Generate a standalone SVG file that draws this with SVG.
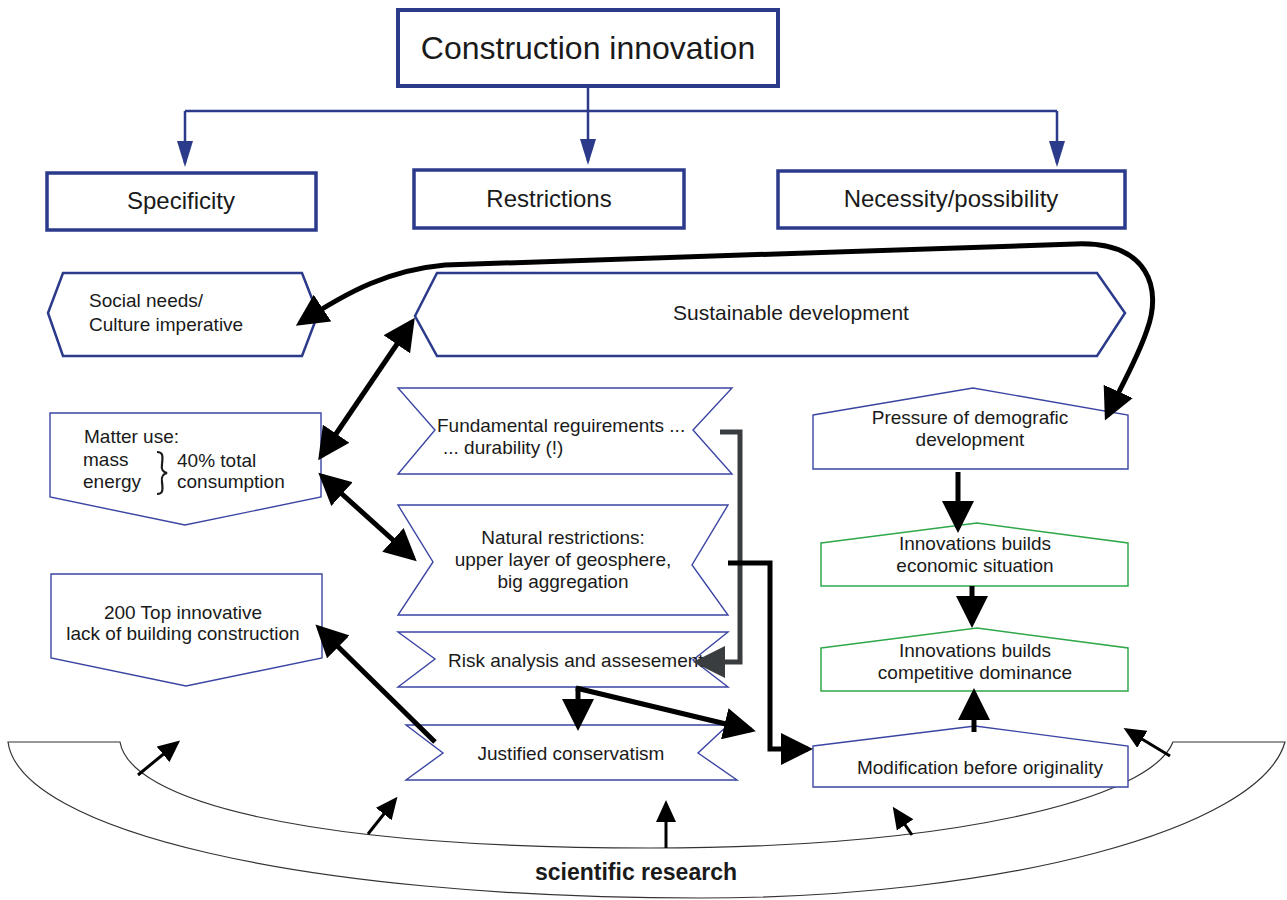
<svg xmlns="http://www.w3.org/2000/svg" width="1287" height="900" viewBox="0 0 1287 900">
<style>
text{font-family:"Liberation Sans",Arial,sans-serif;fill:#1a1a1a;font-size:19px}
.c{text-anchor:middle}
.big{font-size:32px}
.mid{font-size:24px}
.bold{font-weight:bold;font-size:23px}
.hdr{fill:#fff;stroke:#2b3a8a;stroke-width:4}
.sub{fill:#fff;stroke:#2b3a8a;stroke-width:3.5}
.hex{fill:#fff;stroke:#2b3a8a;stroke-width:2.5}
.thin{fill:#fff;stroke:#3a45a3;stroke-width:1.4}
.green{fill:#fff;stroke:#2fa84a;stroke-width:1.5}
.navy{fill:none;stroke:#2b3a8a;stroke-width:2.5}
.thick{fill:none;stroke:#000;stroke-width:5}
.grey{fill:none;stroke:#3a3d40;stroke-width:5}
.small{fill:none;stroke:#000;stroke-width:3}
</style>
<defs>
<marker id="navyArrow" markerUnits="userSpaceOnUse" markerWidth="26" markerHeight="16" refX="22" refY="8" orient="auto"><path d="M0,0 L26,8 L0,16 Z" fill="#2b3a8a"/></marker>
<marker id="bigArrow" markerUnits="userSpaceOnUse" markerWidth="32" markerHeight="32" refX="27" refY="16" orient="auto-start-reverse"><path d="M0,0 L32,16 L0,32 Z" fill="#000"/></marker>
<marker id="greyArrow" markerUnits="userSpaceOnUse" markerWidth="32" markerHeight="32" refX="27" refY="16" orient="auto"><path d="M0,0 L32,16 L0,32 Z" fill="#3a3d40"/></marker>
<marker id="smallArrow" markerUnits="userSpaceOnUse" markerWidth="22" markerHeight="20" refX="18" refY="10" orient="auto"><path d="M0,0 L22,10 L0,20 Z" fill="#000"/></marker>
</defs>
<rect x="0" y="0" width="1287" height="900" fill="#fff"/>

<g id="research">
<path d="M8,742 H120 C130,800 300,848 650,848 C950,848 1150,800 1173,742 H1285 C1260,830 1000,898 700,898 C300,898 20,830 8,742 Z" fill="#fff" stroke="#333" stroke-width="1.2"/>
<text class="c bold" x="636" y="880">scientific research</text>
</g>

<g id="title">
<rect class="hdr" x="398" y="10" width="380" height="76"/>
<text class="c big" x="588" y="59">Construction innovation</text>
</g>
<g id="specificity">
<rect class="sub" x="47" y="173" width="269" height="57"/>
<text class="c mid" x="181" y="209">Specificity</text>
</g>
<g id="restrictions">
<rect class="sub" x="414" y="170" width="270" height="58"/>
<text class="c mid" x="549" y="207">Restrictions</text>
</g>
<g id="necessity">
<rect class="sub" x="778" y="171" width="347" height="57"/>
<text class="c mid" x="951" y="207">Necessity/possibility</text>
</g>

<g id="social">
<polygon class="hex" points="48,313 63,273 302,273 318,314 302,356 63,356"/>
<text x="89" y="307">Social needs/</text>
<text x="89" y="331">Culture imperative</text>
</g>
<g id="sustainable">
<polygon class="hex" points="415,316 437,273 1097,273 1125,313 1097,356 437,356"/>
<text class="c" x="791" y="320" style="font-size:21px">Sustainable development</text>
</g>
<g id="matter">
<polygon class="thin" points="50,413 321,413 321,497 185,525 50,497"/>
<text x="84" y="443">Matter use:</text>
<text x="83" y="466">mass</text>
<text x="83" y="488">energy</text>
<path d="M157,452 C163,452 163,456 162,464 C161,470 163,472 167,473 C163,474 161,476 162,482 C163,490 163,494 157,494" fill="none" stroke="#1a1a1a" stroke-width="2.2"/>
<text x="177" y="467">40% total</text>
<text x="177" y="488">consumption</text>
</g>
<g id="top200">
<polygon class="thin" points="51,574 322,574 322,658 186,686 51,658"/>
<text class="c" x="183" y="619">200 Top innovative</text>
<text class="c" x="183" y="640">lack of building construction</text>
</g>

<g id="fundamental">
<polygon class="thin" points="398,388 732,388 693,430 732,474 398,474 435,430"/>
<text x="437" y="432">Fundamental reguirements ...</text>
<text x="443" y="454">... durability (!)</text>
</g>
<g id="natural">
<polygon class="thin" points="398,505 728,505 692,565 728,615 398,615 433,562"/>
<text class="c" x="563" y="544">Natural restrictions:</text>
<text class="c" x="563" y="566">upper layer of geosphere,</text>
<text class="c" x="563" y="588">big aggregation</text>
</g>
<g id="risk">
<polygon class="thin" points="398,632 728,632 693,660 728,687 398,687 435,659"/>
<text x="448" y="667">Risk analysis and assesement</text>
</g>
<g id="justified">
<polygon class="thin" points="406,725 728,725 698,753 737,780 406,780 443,753"/>
<text class="c" x="571" y="760">Justified conservatism</text>
</g>

<g id="pressure">
<polygon class="thin" points="813,415 973,388 1128,415 1128,469 813,469"/>
<text class="c" x="970" y="424">Pressure of demografic</text>
<text class="c" x="970" y="446">development</text>
</g>
<g id="economic">
<polygon class="green" points="821,543 977,523 1128,543 1128,586 821,586"/>
<text class="c" x="975" y="550">Innovations builds</text>
<text class="c" x="975" y="572">economic situation</text>
</g>
<g id="competitive">
<polygon class="green" points="821,648 977,628 1128,648 1128,691 821,691"/>
<text class="c" x="975" y="657">Innovations builds</text>
<text class="c" x="975" y="679">competitive dominance</text>
</g>
<g id="modification">
<polygon class="thin" points="813,746 975,726 1128,746 1128,787 813,787"/>
<text class="c" x="980" y="774">Modification before originality</text>
</g>

<g id="connectors">
<path class="navy" d="M588,86 V111"/>
<path class="navy" d="M185,111 H1057"/>
<path class="navy" d="M185,111 V163" marker-end="url(#navyArrow)"/>
<path class="navy" d="M588,111 V161" marker-end="url(#navyArrow)"/>
<path class="navy" d="M1057,111 V163" marker-end="url(#navyArrow)"/>

<path class="thick" d="M300,323 C350,290 390,270 445,265 L1075,244 C1150,241 1162,290 1147,330 C1137,360 1118,392 1107,416" marker-start="url(#bigArrow)" marker-end="url(#bigArrow)"/>
<path class="thick" d="M321,456 L412,322" marker-start="url(#bigArrow)" marker-end="url(#bigArrow)"/>
<path class="thick" d="M322,476 L413,558" marker-start="url(#bigArrow)" marker-end="url(#bigArrow)"/>
<path class="thick" d="M435,742 L319,628" marker-end="url(#bigArrow)"/>
<path class="grey" d="M720,432 H740 V662 H698" marker-end="url(#greyArrow)"/>
<path class="thick" d="M728,563 H770 V749 H808" marker-end="url(#bigArrow)"/>
<path class="thick" d="M578,687 V726" marker-end="url(#bigArrow)"/>
<path class="thick" d="M576,688 L751,730" marker-end="url(#bigArrow)"/>
<path class="thick" d="M958,472 V528" marker-end="url(#bigArrow)"/>
<path class="thick" d="M972,586 V623" marker-end="url(#bigArrow)"/>
<path class="thick" d="M974,732 V693" marker-end="url(#bigArrow)"/>

<path class="small" d="M138,775 L177,743" marker-end="url(#smallArrow)"/>
<path class="small" d="M368,834 L395,800" marker-end="url(#smallArrow)"/>
<path class="small" d="M666,848 V804" marker-end="url(#smallArrow)"/>
<path class="small" d="M912,835 L895,810" marker-end="url(#smallArrow)"/>
<path class="small" d="M1170,756 L1127,730" marker-end="url(#smallArrow)"/>
</g>
</svg>
